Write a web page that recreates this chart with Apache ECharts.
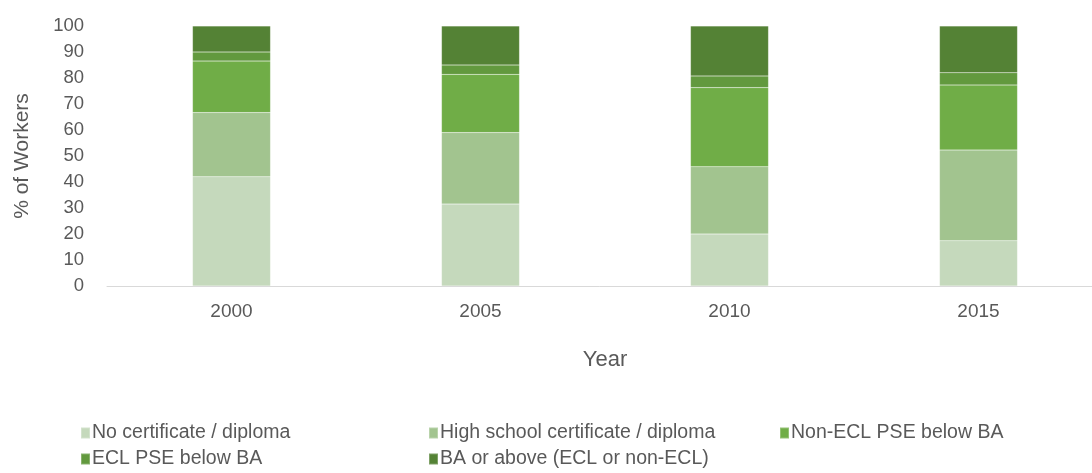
<!DOCTYPE html>
<html>
<head>
<meta charset="utf-8">
<script src="https://cdn.jsdelivr.net/npm/echarts@6/dist/echarts.min.js"></script>
<style>
  html, body { margin: 0; padding: 0; background: #fff; }
  #chart { width: 1092px; height: 473px; }
</style>
</head>
<body>
<div id="chart"></div>
<script>
const years = ['2000', '2005', '2010', '2015'];
const seriesNames = [
  'No certificate / diploma',
  'High school certificate / diploma',
  'Non-ECL PSE below BA',
  'ECL PSE below BA',
  'BA or above (ECL or non-ECL)'
];
const noCert = [42.0, 31.5, 20.0, 17.4];
const highSchool = [24.7, 27.5, 25.9, 34.9];
const nonEclPse = [19.8, 22.4, 30.4, 25.0];
const eclPse = [3.5, 3.6, 4.5, 4.7];
const baAbove = [10.0, 15.0, 19.2, 18.0];
const colors = ['#C5D9BC', '#A2C48F', '#70AD47', '#62993E', '#548235'];

const values = [noCert, highSchool, nonEclPse, eclPse, baAbove];
const font = '"Liberation Sans", Arial, sans-serif';
const textColor = '#595959';

// legend slot for each series: [left, top]
const legendPos = [[80, 423], [428, 423], [779, 423], [80, 449], [428, 449]];

const chart = echarts.init(document.getElementById('chart'));

chart.setOption({
  animation: false,
  color: colors,
  textStyle: { fontFamily: font },
  grid: { left: 107, top: 26, width: 996, height: 260, outerBoundsMode: 'none', containLabel: false },
  legend: seriesNames.map((name, i) => ({
    left: legendPos[i][0],
    top: legendPos[i][1],
    data: [name],
    icon: 'rect',
    itemWidth: 9,
    itemHeight: 11,
    padding: 0,
    textStyle: { color: textColor, fontSize: 19.5, fontFamily: font, padding: [0, 0, 0, -3] }
  })),
  xAxis: {
    type: 'category',
    data: years,
    name: 'Year',
    nameLocation: 'middle',
    nameGap: 63,
    nameTextStyle: { color: textColor, fontSize: 22, fontFamily: font },
    axisLine: { lineStyle: { color: '#D9D9D9', width: 1 } },
    axisTick: { show: false },
    axisLabel: { color: textColor, fontSize: 19, fontFamily: font, margin: 16 }
  },
  yAxis: {
    type: 'value',
    min: 0,
    max: 100,
    interval: 10,
    name: '% of Workers',
    nameLocation: 'middle',
    nameGap: 74,
    nameTextStyle: { color: textColor, fontSize: 21, fontFamily: font },
    axisLine: { show: false },
    axisTick: { show: false },
    splitLine: { show: false },
    axisLabel: { color: textColor, fontSize: 18.5, fontFamily: font, margin: 23 }
  },
  series: seriesNames.map((name, i) => ({
    name: name,
    type: 'bar',
    stack: 'total',
    barWidth: 78,
    data: values[i],
    itemStyle: {
      color: colors[i],
      borderColor: 'rgba(255,255,255,0.25)',
      borderWidth: 0.5
    }
  }))
});
</script>
</body>
</html>
